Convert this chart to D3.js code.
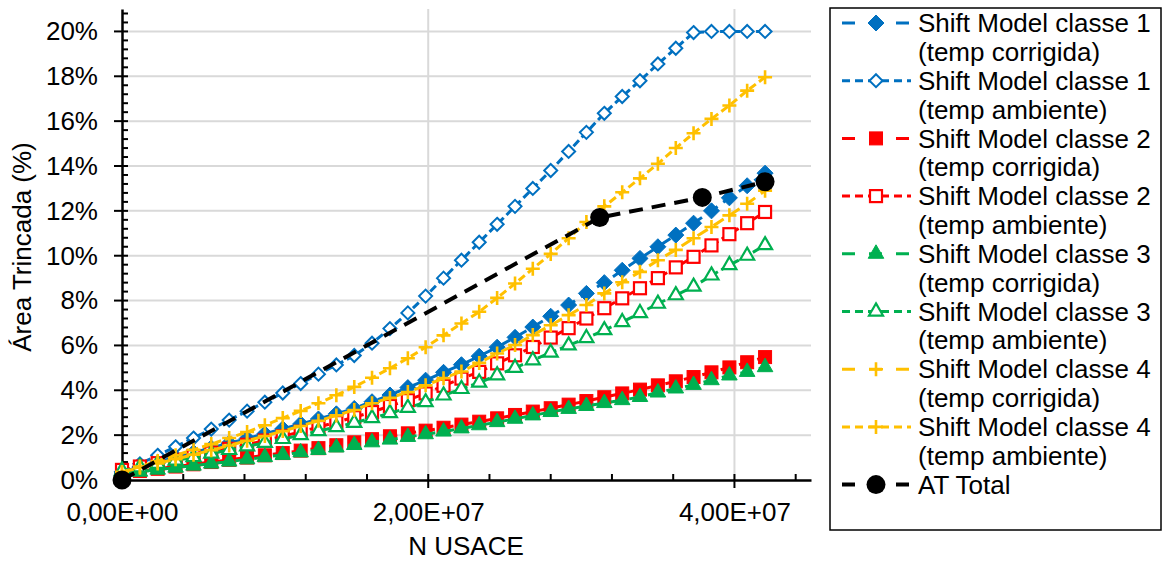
<!DOCTYPE html>
<html>
<head>
<meta charset="utf-8">
<script src="https://cdn.jsdelivr.net/npm/d3@7"></script>
<style>
  html, body { margin: 0; padding: 0; background: #fff; }
  svg { display: block; font-family: "Liberation Sans", Arial, sans-serif; }
</style>
</head>
<body>
<svg id="chart" width="1166" height="562"></svg>
<script>
// Accumulated traffic (N USACE), one value per month over 36 months
const nUsace = [0, 1.17e6, 2.33e6, 3.5e6, 4.67e6, 5.83e6, 7.0e6, 8.17e6, 9.33e6, 10.5e6,
  11.67e6, 12.83e6, 14.0e6, 15.17e6, 16.33e6, 17.5e6, 18.67e6, 19.83e6, 21.0e6, 22.17e6,
  23.33e6, 24.5e6, 25.67e6, 26.83e6, 28.0e6, 29.17e6, 30.33e6, 31.5e6, 32.67e6, 33.83e6,
  35.0e6, 36.17e6, 37.33e6, 38.5e6, 39.67e6, 40.83e6, 42.0e6];

// Cracked area (%) predicted by the shift model
const classe1Corrigida = [0.36, 0.58, 0.8, 1.01, 1.22, 1.43, 1.64, 1.85, 2.06, 2.28, 2.5, 2.72,
  2.95, 3.19, 3.49, 3.79, 4.12, 4.45, 4.8, 5.14, 5.52, 5.92, 6.36, 6.82, 7.3, 7.8, 8.32, 8.8,
  9.35, 9.88, 10.4, 10.92, 11.45, 12.0, 12.58, 13.12, 13.68];
const classe1Ambiente = [0.3, 0.72, 1.1, 1.48, 1.87, 2.27, 2.67, 3.07, 3.47, 3.88, 4.3, 4.72,
  5.13, 5.55, 6.1, 6.75, 7.45, 8.2, 9.0, 9.8, 10.6, 11.4, 12.2, 13.0, 13.8, 14.65, 15.5, 16.35,
  17.1, 17.8, 18.55, 19.25, 19.95, 20.0, 20.0, 20.0, 20.0];
const classe2Corrigida = [0.3, 0.4, 0.5, 0.6, 0.7, 0.8, 0.9, 1.0, 1.1, 1.2, 1.31, 1.42, 1.55,
  1.68, 1.82, 1.95, 2.08, 2.2, 2.33, 2.47, 2.6, 2.75, 2.9, 3.05, 3.2, 3.36, 3.52, 3.69, 3.86,
  4.03, 4.22, 4.4, 4.59, 4.8, 5.02, 5.25, 5.48];
const classe2Ambiente = [0.45, 0.6, 0.75, 0.9, 1.06, 1.22, 1.39, 1.57, 1.76, 1.95, 2.15, 2.36,
  2.58, 2.8, 3.03, 3.3, 3.56, 3.86, 4.2, 4.52, 4.82, 5.2, 5.56, 5.93, 6.35, 6.77, 7.2, 7.66, 8.1,
  8.55, 9.0, 9.48, 9.95, 10.46, 10.96, 11.45, 11.95];
const classe3Corrigida = [0.28, 0.37, 0.46, 0.55, 0.64, 0.73, 0.82, 0.92, 1.02, 1.12, 1.23, 1.34,
  1.45, 1.56, 1.68, 1.8, 1.92, 2.04, 2.16, 2.3, 2.44, 2.58, 2.73, 2.88, 3.03, 3.17, 3.3, 3.43,
  3.56, 3.7, 3.9, 4.08, 4.24, 4.45, 4.66, 4.82, 5.03];
const classe3Ambiente = [0.42, 0.57, 0.72, 0.87, 1.02, 1.18, 1.34, 1.5, 1.66, 1.83, 2.0, 2.18,
  2.36, 2.55, 2.76, 2.98, 3.22, 3.47, 3.77, 4.06, 4.34, 4.67, 5.0, 5.34, 5.68, 6.0, 6.33, 6.68,
  7.04, 7.44, 7.86, 8.24, 8.62, 9.12, 9.58, 10.0, 10.47];
const classe4Corrigida = [0.35, 0.55, 0.74, 0.93, 1.13, 1.33, 1.54, 1.75, 1.96, 2.18, 2.41, 2.64,
  2.88, 3.12, 3.42, 3.66, 3.92, 4.22, 4.54, 4.84, 5.22, 5.64, 6.02, 6.46, 6.9, 7.35, 7.8, 8.32,
  8.82, 9.28, 9.8, 10.26, 10.78, 11.28, 11.8, 12.32, 12.9];
const classe4Ambiente = [0.35, 0.6, 0.85, 1.1, 1.35, 1.6, 1.87, 2.14, 2.44, 2.76, 3.08, 3.42,
  3.78, 4.15, 4.56, 4.98, 5.43, 5.92, 6.45, 6.98, 7.5, 8.12, 8.76, 9.42, 10.08, 10.78, 11.5,
  12.2, 12.83, 13.45, 14.1, 14.8, 15.46, 16.1, 16.7, 17.36, 17.96];

// Measured total cracked area
const atTotalN = [0, 3.12e7, 3.79e7, 4.2e7];
const atTotalValues = [0, 11.7, 12.6, 13.3];

// Axis ticks
const yTicks = [0, 2, 4, 6, 8, 10, 12, 14, 16, 18, 20];
const xTicks = [0, 2e7, 4e7];

const series = [
  { name: ["Shift Model classe 1", "(temp corrigida)"], x: nUsace, y: classe1Corrigida, color: "#0070C0", marker: "diamond", open: false, dash: "long" },
  { name: ["Shift Model classe 1", "(temp ambiente)"], x: nUsace, y: classe1Ambiente, color: "#0070C0", marker: "diamond", open: true, dash: "short" },
  { name: ["Shift Model classe 2", "(temp corrigida)"], x: nUsace, y: classe2Corrigida, color: "#FF0000", marker: "square", open: false, dash: "long" },
  { name: ["Shift Model classe 2", "(temp ambiente)"], x: nUsace, y: classe2Ambiente, color: "#FF0000", marker: "square", open: true, dash: "short" },
  { name: ["Shift Model classe 3", "(temp corrigida)"], x: nUsace, y: classe3Corrigida, color: "#00B050", marker: "triangle", open: false, dash: "long" },
  { name: ["Shift Model classe 3", "(temp ambiente)"], x: nUsace, y: classe3Ambiente, color: "#00B050", marker: "triangle", open: true, dash: "short" },
  { name: ["Shift Model classe 4", "(temp corrigida)"], x: nUsace, y: classe4Corrigida, color: "#FFC000", marker: "plus", open: false, dash: "long" },
  { name: ["Shift Model classe 4", "(temp ambiente)"], x: nUsace, y: classe4Ambiente, color: "#FFC000", marker: "plus", open: true, dash: "short" },
  { name: ["AT Total"], x: atTotalN, y: atTotalValues, color: "#000000", marker: "circle", open: false, dash: "black" }
];

const svg = d3.select("#chart");
const FONT = 26;

const x = d3.scaleLinear().domain([0, 4.5e7]).range([122, 811]);
const y = d3.scaleLinear().domain([0, 21]).range([480, 9]);

const fmtX = d => {
  if (d === 0) return "0,00E+00";
  const e = Math.floor(Math.log10(d));
  const m = d / Math.pow(10, e);
  return m.toFixed(2).replace(".", ",") + "E+" + String(e).padStart(2, "0");
};

// Gridlines
const grid = svg.append("g").attr("stroke", "#d9d9d9").attr("stroke-width", 2);
grid.selectAll(".gy").data(yTicks.filter(d => d > 0)).join("line")
  .attr("x1", x.range()[0]).attr("x2", x.range()[1])
  .attr("y1", d => y(d)).attr("y2", d => y(d));
grid.selectAll(".gx").data(xTicks.filter(d => d > 0)).join("line")
  .attr("x1", d => x(d)).attr("x2", d => x(d))
  .attr("y1", y.range()[0]).attr("y2", y.range()[1]);

// Minor ticks (inside the plot)
const yMinor = d3.range(0, 21.01, 0.4).map(v => +v.toFixed(1)).filter(v => !yTicks.includes(v));
const xMinor = d3.range(0, 4.5e7 + 1, 4e6).filter(v => !xTicks.includes(v));
const tickG = svg.append("g").attr("stroke", "#000").attr("stroke-width", 2);
tickG.selectAll(".my").data(yMinor).join("line")
  .attr("x1", x(0)).attr("x2", x(0) + 6).attr("y1", d => y(d)).attr("y2", d => y(d));
tickG.selectAll(".mx").data(xMinor).join("line")
  .attr("x1", d => x(d)).attr("x2", d => x(d)).attr("y1", y(0)).attr("y2", y(0) - 6);
tickG.selectAll(".My").data(yTicks).join("line")
  .attr("x1", x(0) - 8).attr("x2", x(0) + 6).attr("y1", d => y(d)).attr("y2", d => y(d));
tickG.selectAll(".Mx").data(xTicks).join("line")
  .attr("x1", d => x(d)).attr("x2", d => x(d)).attr("y1", y(0) - 6).attr("y2", y(0) + 8);

// Axes (labels + domain lines)
const yAxis = svg.append("g").attr("transform", `translate(${x(0)},0)`)
  .call(d3.axisLeft(y).tickValues(yTicks).tickFormat(d => d + "%").tickSize(0).tickPadding(24));
const xAxis = svg.append("g").attr("transform", `translate(0,${y(0)})`)
  .call(d3.axisBottom(x).tickValues(xTicks).tickFormat(fmtX).tickSize(0).tickPadding(23));
[yAxis, xAxis].forEach(a => {
  a.select(".domain").attr("stroke", "#000").attr("stroke-width", 2.5);
  a.selectAll("text").attr("font-size", FONT).attr("fill", "#000")
    .attr("font-family", "'Liberation Sans', Arial, sans-serif");
});

// Axis titles
svg.append("text").attr("x", 466).attr("y", 555).attr("text-anchor", "middle")
  .attr("font-size", FONT).text("N USACE");
svg.append("text").attr("transform", "translate(31,247) rotate(-90)").attr("text-anchor", "middle")
  .attr("font-size", FONT).text("Área Trincada (%)");

// Marker drawing
const triFilled = d3.symbol(d3.symbolTriangle, 105)();
const triOpen = d3.symbol(d3.symbolTriangle, 85)();
function drawMarker(sel, s) {
  const c = s.color;
  if (s.marker === "diamond") {
    const r = s.open ? 6.5 : 8;
    sel.append("path").attr("d", `M0,${-r}L${r},0L0,${r}L${-r},0Z`)
      .attr("fill", s.open ? "#fff" : c).attr("stroke", c).attr("stroke-width", s.open ? 2 : 1);
  } else if (s.marker === "square") {
    const h = s.open ? 6 : 6.5;
    sel.append("rect").attr("x", -h).attr("y", -h).attr("width", 2 * h).attr("height", 2 * h)
      .attr("fill", s.open ? "#fff" : c).attr("stroke", c).attr("stroke-width", s.open ? 2.2 : 1);
  } else if (s.marker === "triangle") {
    sel.append("path").attr("d", s.open ? triOpen : triFilled)
      .attr("fill", s.open ? "#fff" : c).attr("stroke", c).attr("stroke-width", s.open ? 2.2 : 1);
  } else if (s.marker === "plus") {
    sel.append("path").attr("d", "M-7,0H7M0,-7V7")
      .attr("fill", "none").attr("stroke", c).attr("stroke-width", 2.6);
  } else if (s.marker === "circle") {
    sel.append("circle").attr("r", 9.5).attr("fill", c);
  }
}

const dashes = { long: "12,7", short: "8,4", black: "14,9" };
const widths = { long: 3, short: 3, black: 4 };

const line = d3.line().x(d => x(d[0])).y(d => y(d[1]));

// Series: line first, then markers, in legend order
series.forEach(s => {
  const pts = s.x.map((v, i) => [v, s.y[i]]);
  const g = svg.append("g");
  g.append("path").datum(pts).attr("d", line)
    .attr("fill", "none").attr("stroke", s.color)
    .attr("stroke-width", widths[s.dash]).attr("stroke-dasharray", dashes[s.dash]);
  g.selectAll(".m").data(pts).join("g")
    .attr("transform", d => `translate(${x(d[0])},${y(d[1])})`)
    .each(function () { drawMarker(d3.select(this), s); });
});

// Legend
const leg = svg.append("g");
leg.append("rect").attr("x", 830).attr("y", 8).attr("width", 331).attr("height", 522)
  .attr("fill", "#fff").attr("stroke", "#000").attr("stroke-width", 1.5);
const lineStep = 28.85;
const legDash = { long: "13,14", short: "8,5", black: "13,14" };
series.forEach((s, i) => {
  const cy = 23 + lineStep * 2 * i;
  const g = leg.append("g");
  g.append("line").attr("x1", 842).attr("x2", 911).attr("y1", cy).attr("y2", cy)
    .attr("stroke", s.color).attr("stroke-width", widths[s.dash])
    .attr("stroke-dasharray", legDash[s.dash]);
  const mg = g.append("g").attr("transform", `translate(876,${cy})`);
  drawMarker(mg, s);
  s.name.forEach((t, k) => {
    g.append("text").attr("x", 918).attr("y", cy + k * lineStep).attr("dy", "0.35em")
      .attr("font-size", FONT).text(t);
  });
});
</script>
</body>
</html>
